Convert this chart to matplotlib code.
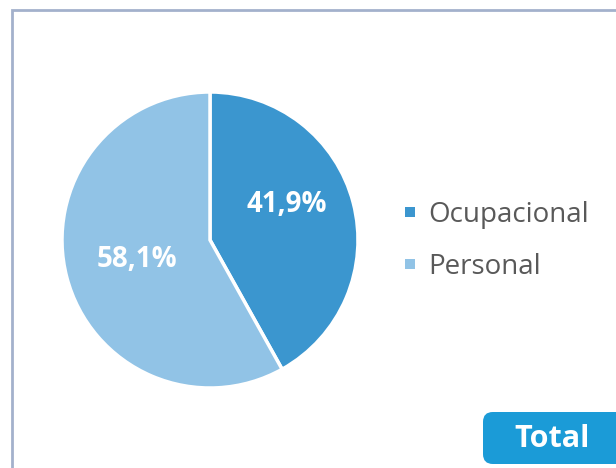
import matplotlib
matplotlib.use("Agg")
import matplotlib.pyplot as plt
from matplotlib.patches import FancyBboxPatch, Rectangle

categories = ["Ocupacional", "Personal"]
values = [41.9, 58.1]
labels = ["41,9%", "58,1%"]
colors = ["#3b96cf", "#91c3e6"]

plt.rcParams['font.family'] = ['Open Sans', 'DejaVu Sans']

W, H = 616, 468
fig = plt.figure(figsize=(W/100, H/100), dpi=100)
fig.patch.set_facecolor("white")

# outer border
fig.add_artist(Rectangle((12/W, -0.1), 1.2, (H-10)/H + 0.1, transform=fig.transFigure,
                         fill=False, edgecolor="#a3b1cc", linewidth=2))

# pie axes: center (210,240), radius 148
r = 148
cx, cy = 210, 240
ax = fig.add_axes([(cx - r)/W, (H - cy - r)/H, 2*r/W, 2*r/H])
wedges, _ = ax.pie(values, colors=colors, startangle=90, counterclock=False,
                   wedgeprops=dict(edgecolor="white", linewidth=2.5))
ax.set_aspect("auto")
ax.set_xlim(-1, 1)
ax.set_ylim(-1, 1)

# data labels (baseline positions)
lab_pos = [(287, 212), (137, 267)]
for (x, y), t in zip(lab_pos, labels):
    fig.text(x/W, 1 - y/H, t, color="white", fontsize=20, fontweight="bold",
             ha="center", va="baseline")

# legend
leg_y = [212, 264]
for y, c, name in zip(leg_y, colors, categories):
    fig.add_artist(Rectangle(((410-5)/W, 1 - (y+5)/H), 10/W, 10/H,
                             transform=fig.transFigure, facecolor=c, edgecolor="none"))
    fig.text(428/W, 1 - (y + 10)/H, name, color="#595959", fontsize=20,
             ha="left", va="baseline")

# Total box
box = FancyBboxPatch((483/W, 1 - 464/H), 150/W, 52/H, transform=fig.transFigure,
                     boxstyle="round,pad=0,rounding_size=0.016", facecolor="#1b9bd7",
                     edgecolor="none", mutation_aspect=W/H)
fig.add_artist(box)
fig.text(552/W, 1 - 447/H, "Total", color="white", fontsize=22, fontweight="bold",
         ha="center", va="baseline")

fig.savefig("out.png", dpi=100, facecolor="white")
